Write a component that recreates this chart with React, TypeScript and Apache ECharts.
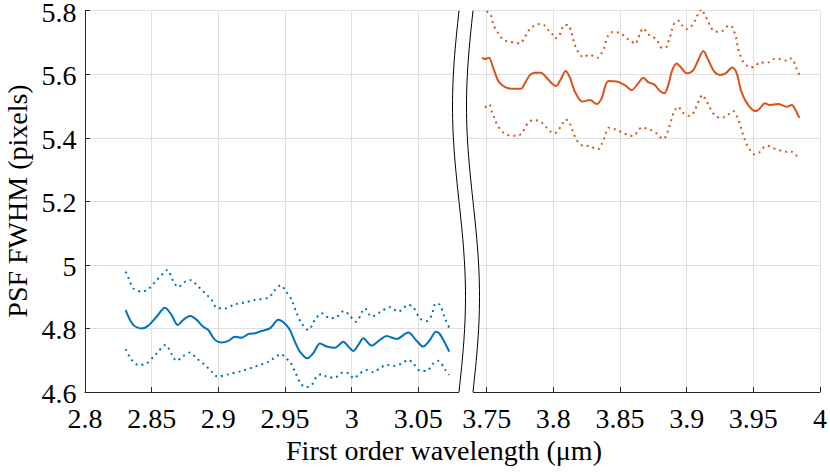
import React, { useEffect, useRef } from "react";
import * as echarts from "echarts";

// ---- data (wavelength µm, FWHM pixels) ----
const blueMean: number[][] = [
  [2.8305, 4.858], [2.8362, 4.811], [2.8425, 4.8], [2.8475, 4.809], [2.8537, 4.837], [2.86, 4.865],
  [2.865, 4.842], [2.8695, 4.811], [2.8737, 4.827], [2.8788, 4.839], [2.8838, 4.827], [2.8887, 4.805],
  [2.8925, 4.795], [2.8975, 4.764], [2.9025, 4.756], [2.9075, 4.761], [2.9125, 4.774], [2.9175, 4.771],
  [2.9225, 4.782], [2.9275, 4.785], [2.9325, 4.792], [2.9387, 4.8], [2.945, 4.827], [2.95, 4.815],
  [2.9537, 4.795], [2.9575, 4.758], [2.9612, 4.727], [2.9667, 4.706], [2.9712, 4.722], [2.9762, 4.753],
  [2.9812, 4.743], [2.9875, 4.739], [2.9937, 4.758], [2.9975, 4.743], [3.0012, 4.729], [3.005, 4.748],
  [3.0087, 4.769], [3.015, 4.746], [3.0212, 4.764], [3.0262, 4.776], [3.0337, 4.767], [3.0425, 4.787],
  [3.0487, 4.761], [3.0537, 4.743], [3.0587, 4.764], [3.0632, 4.79], [3.0662, 4.782], [3.0732, 4.727],
];
const blueUpper: number[][] = [
  [2.8305, 4.979], [2.8325, 4.96], [2.8362, 4.926], [2.8425, 4.916], [2.8475, 4.924], [2.8537, 4.952],
  [2.8587, 4.974], [2.8617, 4.984], [2.8662, 4.949], [2.87, 4.93], [2.875, 4.947], [2.8795, 4.952],
  [2.8837, 4.937], [2.89, 4.911], [2.895, 4.89], [2.8987, 4.865], [2.905, 4.863], [2.9125, 4.876],
  [2.92, 4.882], [2.9275, 4.89], [2.9375, 4.897], [2.9425, 4.921], [2.947, 4.936], [2.95, 4.921],
  [2.955, 4.89], [2.9587, 4.848], [2.9625, 4.816], [2.9675, 4.795], [2.9725, 4.827], [2.9775, 4.848],
  [2.9837, 4.832], [2.9882, 4.834], [2.9942, 4.855], [2.9987, 4.84], [3.0032, 4.821], [3.01, 4.863],
  [3.015, 4.837], [3.0212, 4.851], [3.0287, 4.867], [3.035, 4.853], [3.0425, 4.874], [3.0462, 4.867],
  [3.0512, 4.832], [3.0562, 4.823], [3.06, 4.842], [3.063, 4.879], [3.0662, 4.874], [3.0695, 4.837],
  [3.0732, 4.802],
];
const blueLower: number[][] = [
  [2.8305, 4.735], [2.835, 4.701], [2.84, 4.685], [2.8462, 4.69], [2.8525, 4.716], [2.8605, 4.748],
  [2.865, 4.719], [2.8687, 4.698], [2.8737, 4.713], [2.8787, 4.724], [2.8837, 4.706], [2.89, 4.685],
  [2.895, 4.664], [2.8995, 4.648], [2.9075, 4.656], [2.9175, 4.666], [2.9275, 4.68], [2.9375, 4.695],
  [2.9475, 4.719], [2.95, 4.708], [2.9537, 4.695], [2.9575, 4.664], [2.9617, 4.627], [2.9657, 4.615],
  [2.97, 4.622], [2.9737, 4.648], [2.9775, 4.656], [2.9825, 4.646], [2.9875, 4.646], [2.9937, 4.662],
  [2.9975, 4.659], [3.0017, 4.643], [3.0062, 4.659], [3.0112, 4.669], [3.0162, 4.662], [3.0212, 4.675],
  [3.0262, 4.685], [3.0325, 4.682], [3.0375, 4.69], [3.0425, 4.701], [3.0462, 4.69], [3.0512, 4.667],
  [3.0562, 4.666], [3.0612, 4.69], [3.065, 4.698], [3.07, 4.671], [3.0732, 4.654],
];
const redMean: number[][] = [
  [3.7467, 5.653], [3.7487, 5.648], [3.7517, 5.652], [3.755, 5.619], [3.7587, 5.579], [3.7625, 5.563],
  [3.7662, 5.556], [3.7712, 5.554], [3.7757, 5.554], [3.7787, 5.572], [3.7825, 5.598], [3.7862, 5.605],
  [3.7907, 5.605], [3.795, 5.589], [3.7987, 5.572], [3.802, 5.563], [3.8057, 5.585], [3.8092, 5.61],
  [3.8125, 5.589], [3.8162, 5.545], [3.8217, 5.514], [3.8275, 5.519], [3.8325, 5.506], [3.8362, 5.524],
  [3.8412, 5.579], [3.8475, 5.577], [3.8537, 5.566], [3.8587, 5.55], [3.8637, 5.572], [3.8675, 5.589],
  [3.8712, 5.575], [3.8757, 5.568], [3.88, 5.547], [3.8832, 5.54], [3.8862, 5.566], [3.8892, 5.613],
  [3.8925, 5.634], [3.8962, 5.619], [3.9, 5.603], [3.905, 5.613], [3.9087, 5.645], [3.9125, 5.673],
  [3.9162, 5.645], [3.9207, 5.608], [3.925, 5.598], [3.9292, 5.603], [3.9342, 5.621], [3.9375, 5.603],
  [3.9412, 5.543], [3.9462, 5.503], [3.9517, 5.484], [3.955, 5.493], [3.9587, 5.509], [3.9625, 5.503],
  [3.9687, 5.506], [3.975, 5.498], [3.9787, 5.503], [3.9817, 5.487], [3.9845, 5.463],
];
const redUpper: number[][] = [
  [3.7467, 5.812], [3.7505, 5.797], [3.7532, 5.786], [3.7542, 5.769], [3.7557, 5.75], [3.7582, 5.732],
  [3.7607, 5.716], [3.7637, 5.706], [3.7675, 5.702], [3.7712, 5.7], [3.775, 5.697], [3.7782, 5.713],
  [3.7817, 5.739], [3.7857, 5.753], [3.7895, 5.758], [3.793, 5.755], [3.7962, 5.739], [3.7992, 5.726],
  [3.8012, 5.713], [3.8042, 5.721], [3.8062, 5.739], [3.8082, 5.755], [3.8112, 5.755], [3.8132, 5.736],
  [3.8145, 5.716], [3.8157, 5.697], [3.8175, 5.679], [3.82, 5.661], [3.823, 5.653], [3.8262, 5.661],
  [3.83, 5.658], [3.8332, 5.652], [3.8362, 5.666], [3.8382, 5.684], [3.8407, 5.718], [3.8437, 5.732],
  [3.8475, 5.732], [3.8512, 5.727], [3.855, 5.713], [3.8582, 5.706], [3.8612, 5.695], [3.8637, 5.713],
  [3.865, 5.729], [3.8675, 5.745], [3.8705, 5.729], [3.8737, 5.718], [3.8767, 5.713], [3.8792, 5.697],
  [3.8817, 5.682], [3.885, 5.687], [3.8867, 5.708], [3.8882, 5.726], [3.8892, 5.745], [3.8912, 5.763],
  [3.8942, 5.768], [3.8967, 5.753], [3.9, 5.742], [3.9032, 5.75], [3.9057, 5.765], [3.9075, 5.781],
  [3.91, 5.8], [3.9115, 5.805], [3.9132, 5.789], [3.9155, 5.771], [3.9175, 5.753], [3.92, 5.737],
  [3.9232, 5.734], [3.9267, 5.736], [3.93, 5.75], [3.9332, 5.753], [3.9352, 5.739], [3.937, 5.716],
  [3.9385, 5.682], [3.9402, 5.661], [3.9422, 5.64], [3.9452, 5.627], [3.9482, 5.621], [3.9517, 5.627],
  [3.955, 5.638], [3.9587, 5.636], [3.962, 5.638], [3.9657, 5.648], [3.9692, 5.648], [3.9755, 5.642],
  [3.9787, 5.65], [3.9825, 5.617], [3.9845, 5.598],
];
const redLower: number[][] = [
  [3.7487, 5.495], [3.752, 5.505], [3.7537, 5.484], [3.7555, 5.466], [3.757, 5.449], [3.7592, 5.432],
  [3.7625, 5.417], [3.7657, 5.409], [3.7692, 5.407], [3.773, 5.406], [3.7762, 5.414], [3.7787, 5.43],
  [3.7812, 5.448], [3.785, 5.456], [3.7887, 5.454], [3.792, 5.446], [3.795, 5.432], [3.7982, 5.419],
  [3.8012, 5.414], [3.8042, 5.427], [3.8067, 5.443], [3.8092, 5.458], [3.812, 5.449], [3.8137, 5.43],
  [3.8155, 5.411], [3.8175, 5.393], [3.82, 5.38], [3.8232, 5.374], [3.8275, 5.375], [3.8307, 5.367],
  [3.8342, 5.365], [3.8362, 5.38], [3.8382, 5.398], [3.8395, 5.416], [3.8417, 5.432], [3.8455, 5.428],
  [3.8492, 5.422], [3.853, 5.414], [3.8567, 5.407], [3.86, 5.406], [3.863, 5.418], [3.866, 5.432],
  [3.8695, 5.43], [3.873, 5.425], [3.8762, 5.419], [3.8792, 5.406], [3.8825, 5.396], [3.885, 5.411],
  [3.8867, 5.432], [3.8882, 5.451], [3.8895, 5.47], [3.8912, 5.488], [3.8937, 5.498], [3.8962, 5.484],
  [3.8992, 5.472], [3.9025, 5.469], [3.9057, 5.482], [3.9075, 5.501], [3.9095, 5.519], [3.9117, 5.535],
  [3.9142, 5.521], [3.9162, 5.505], [3.9187, 5.485], [3.9212, 5.47], [3.9245, 5.463], [3.928, 5.465],
  [3.9317, 5.475], [3.935, 5.484], [3.9375, 5.469], [3.9392, 5.451], [3.9407, 5.432], [3.942, 5.414],
  [3.9437, 5.393], [3.9455, 5.375], [3.948, 5.359], [3.9507, 5.348], [3.9542, 5.353], [3.957, 5.367],
  [3.9605, 5.375], [3.9637, 5.369], [3.9675, 5.364], [3.9712, 5.359], [3.975, 5.356], [3.9787, 5.356],
  [3.982, 5.346], [3.9845, 5.33],
];

// ---- axes ----
const leftRange = [2.8, 3.08575];
const rightRange = [3.7345, 4.0];
const yRange = [4.6, 5.8];
const yStep = 0.2;
const leftTicks = [2.8, 2.85, 2.9, 2.95, 3, 3.05];
const rightTicks = [3.75, 3.8, 3.85, 3.9, 3.95, 4];
const yTicks = [4.6, 4.8, 5, 5.2, 5.4, 5.6, 5.8];

const xTitle = "First order wavelength (μm)";
const yTitle = "PSF FWHM (pixels)";

const BLUE = "#0072BD";
const RED = "#D95319";
const AXIS = "#262626";
const GRID = "#dfdfdf";
const FONT = "Liberation Serif";

export default function App() {
  const ref = useRef<HTMLDivElement>(null);

  useEffect(() => {
    const chart = echarts.init(ref.current!, null, { renderer: "svg" });

    const top = 10.7;
    const bottom = 392;
    const h = bottom - top;
    const cut = 466;

    const xAxisCommon = {
      type: "value" as const,
      axisLine: { show: true, onZero: false, lineStyle: { color: AXIS, width: 1 } },
      axisTick: { show: true, inside: true, length: 5, lineStyle: { color: AXIS } },
      splitLine: { show: true, lineStyle: { color: GRID, width: 1 } },
      axisLabel: { show: false },
    };

    const option: any = {
      animation: false,
      backgroundColor: "#fff",
      grid: [
        { left: 85, top, width: cut - 85, height: h, containLabel: false },
        { left: cut, top, width: 820 - cut, height: h, containLabel: false },
      ],
      xAxis: [
        { ...xAxisCommon, gridIndex: 0, min: leftRange[0], max: leftRange[1] },
        { ...xAxisCommon, gridIndex: 1, min: rightRange[0], max: rightRange[1] },
      ],
      yAxis: [
        {
          type: "value",
          gridIndex: 0,
          min: yRange[0],
          max: yRange[1],
          interval: yStep,
          axisLine: { show: true, lineStyle: { color: AXIS, width: 1 } },
          axisTick: { show: true, inside: true, length: 5, lineStyle: { color: AXIS } },
          splitLine: { show: true, lineStyle: { color: GRID, width: 1 } },
          axisLabel: { show: false },
        },
        {
          type: "value",
          gridIndex: 1,
          min: yRange[0],
          max: yRange[1],
          interval: yStep,
          axisLine: { show: false },
          axisTick: { show: false },
          axisLabel: { show: false },
          splitLine: { show: true, lineStyle: { color: GRID, width: 1 } },
        },
      ],
      series: [
        { data: blueUpper, xAxisIndex: 0, yAxisIndex: 0, color: BLUE, dotted: true },
        { data: blueLower, xAxisIndex: 0, yAxisIndex: 0, color: BLUE, dotted: true },
        { data: blueMean, xAxisIndex: 0, yAxisIndex: 0, color: BLUE, dotted: false },
        { data: redUpper, xAxisIndex: 1, yAxisIndex: 1, color: RED, dotted: true },
        { data: redLower, xAxisIndex: 1, yAxisIndex: 1, color: RED, dotted: true },
        { data: redMean, xAxisIndex: 1, yAxisIndex: 1, color: RED, dotted: false },
      ].map((s) => ({
        type: "line",
        data: s.data,
        xAxisIndex: s.xAxisIndex,
        yAxisIndex: s.yAxisIndex,
        showSymbol: false,
        smooth: 0.3,
        clip: true,
        silent: true,
        lineStyle: { color: s.color, width: 2, type: s.dotted ? [2, 4] : "solid" },
      })),
    };

    chart.setOption(option);

    // break marks (decoration)
    const curve = (y: number, dx: number) => [459 + dx - 6.5 * Math.sin((2 * Math.PI * (y - top)) / h), y];
    const c1: number[][] = [];
    const c2: number[][] = [];
    for (let i = 0; i <= 60; i++) {
      const y = top + (h * i) / 60;
      c1.push(curve(y, 0));
      c2.push(curve(y, 14));
    }
    const gap: number[][] = [
      [curve(top, 0)[0], top - 1.5],
      ...c1,
      [curve(bottom, 0)[0], bottom + 1.5],
      [curve(bottom, 14)[0], bottom + 1.5],
      ...c2.slice().reverse(),
      [curve(top, 14)[0], top - 1.5],
    ];

    const fmt = (v: number) => String(Number(v.toFixed(2)));
    const font = `28px "${FONT}"`;
    const label = (text: string, x: number, y: number, align: string, lh?: number) => ({
      type: "text",
      z: 102,
      x,
      y,
      silent: true,
      style: {
        text,
        font,
        fill: "#000",
        textAlign: align,
        textVerticalAlign: "middle",
        align,
        verticalAlign: "middle",
        ...(lh ? { lineHeight: lh } : {}),
      },
    });

    const tickLabels: any[] = [];
    leftTicks.forEach((v) => {
      const px = chart.convertToPixel({ xAxisIndex: 0 }, v) as number;
      tickLabels.push(label(fmt(v), px, 418, "center", 22));
    });
    rightTicks.forEach((v) => {
      const px = chart.convertToPixel({ xAxisIndex: 1 }, v) as number;
      tickLabels.push(label(fmt(v), px, 418, "center", 22));
    });
    yTicks.forEach((v) => {
      const py = chart.convertToPixel({ yAxisIndex: 0 }, v) as number;
      tickLabels.push(label(fmt(v), 76.5, py + 1.5, "right", 22));
    });

    chart.setOption({
      graphic: [
        { type: "polygon", z: 100, silent: true, shape: { points: gap }, style: { fill: "#fff", stroke: null } },
        { type: "polyline", z: 101, silent: true, shape: { points: c1 }, style: { stroke: "#000", lineWidth: 1, fill: null } },
        { type: "polyline", z: 101, silent: true, shape: { points: c2 }, style: { stroke: "#000", lineWidth: 1, fill: null } },
        ...tickLabels,
        label(xTitle, 444, 450.5, "center"),
        { ...label(yTitle, 17, 201, "center"), rotation: Math.PI / 2 },
      ],
    });

    return () => chart.dispose();
  }, []);

  return (
    <div
      ref={ref}
      style={{ position: "fixed", left: 0, top: 0, width: 830, height: 472, background: "#fff" }}
    />
  );
}
